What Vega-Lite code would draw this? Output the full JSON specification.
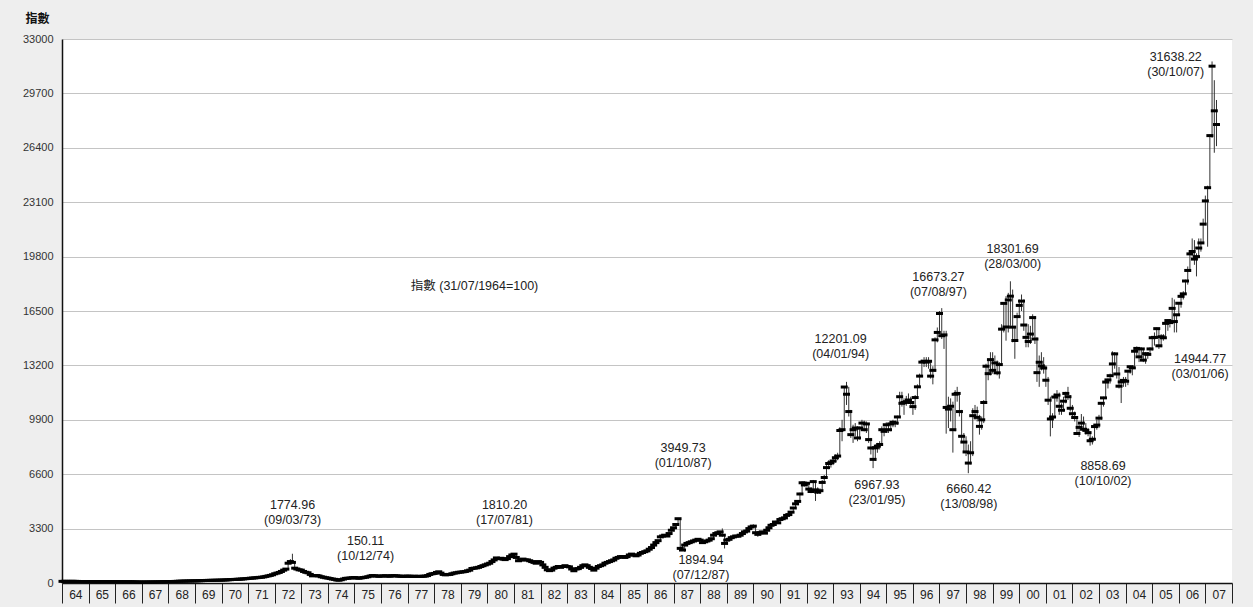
{
"$schema":"https://vega.github.io/schema/vega-lite/v6.json",
"width":1170,"height":544,
"autosize":{"type":"none"},
"padding":{"left":62,"top":39,"right":21,"bottom":24},
"background":"#eeeeee",
"config":{"view":{"fill":"white","stroke":null},"font":"Liberation Sans"},
"datasets":{
"hsi":[
{"d":"1964-07","c":100,"h":101,"l":99},{"d":"1964-08","c":101,"h":102,"l":99},{"d":"1964-09","c":100,"h":102,"l":99},{"d":"1964-10","c":99,"h":101,"l":98},{"d":"1964-11","c":100,"h":101,"l":98},{"d":"1964-12","c":101,"h":102,"l":99},
{"d":"1965-01","c":98,"h":102,"l":97},{"d":"1965-02","c":95,"h":99,"l":94},{"d":"1965-03","c":92,"h":96,"l":91},{"d":"1965-04","c":88,"h":93,"l":87},{"d":"1965-05","c":86,"h":89,"l":85},{"d":"1965-06","c":85,"h":87,"l":84},{"d":"1965-07","c":84,"h":86,"l":83},{"d":"1965-08","c":83,"h":85,"l":82},{"d":"1965-09","c":83,"h":84,"l":82},{"d":"1965-10","c":82,"h":84,"l":81},{"d":"1965-11","c":82,"h":83,"l":81},{"d":"1965-12","c":82,"h":83,"l":81},
{"d":"1966-01","c":83,"h":84,"l":81},{"d":"1966-02","c":84,"h":85,"l":82},{"d":"1966-03","c":83,"h":85,"l":82},{"d":"1966-04","c":82,"h":84,"l":81},{"d":"1966-05","c":81,"h":83,"l":80},{"d":"1966-06","c":80,"h":82,"l":79},{"d":"1966-07","c":80,"h":81,"l":79},{"d":"1966-08","c":79,"h":81,"l":78},{"d":"1966-09","c":79,"h":80,"l":78},{"d":"1966-10","c":78,"h":80,"l":77},{"d":"1966-11","c":77,"h":79,"l":76},{"d":"1966-12","c":77,"h":78,"l":76},
{"d":"1967-01","c":76,"h":78,"l":75},{"d":"1967-02","c":75,"h":77,"l":74},{"d":"1967-03","c":74,"h":76,"l":73},{"d":"1967-04","c":70,"h":75,"l":69},{"d":"1967-05","c":62,"h":71,"l":61},{"d":"1967-06","c":60,"h":63,"l":59},{"d":"1967-07","c":60,"h":62,"l":59},{"d":"1967-08","c":59,"h":61,"l":58},{"d":"1967-09","c":62,"h":63,"l":59},{"d":"1967-10","c":63,"h":64,"l":61},{"d":"1967-11","c":65,"h":66,"l":62},{"d":"1967-12","c":66,"h":67,"l":64},
{"d":"1968-01","c":68,"h":69,"l":65},{"d":"1968-02","c":70,"h":71,"l":67},{"d":"1968-03","c":72,"h":73,"l":69},{"d":"1968-04","c":75,"h":76,"l":71},{"d":"1968-05","c":80,"h":81,"l":74},{"d":"1968-06","c":84,"h":86,"l":79},{"d":"1968-07","c":88,"h":90,"l":83},{"d":"1968-08","c":90,"h":92,"l":87},{"d":"1968-09","c":92,"h":94,"l":89},{"d":"1968-10","c":96,"h":98,"l":91},{"d":"1968-11","c":102,"h":104,"l":95},{"d":"1968-12","c":107,"h":109,"l":101},
{"d":"1969-01","c":112,"h":114,"l":106},{"d":"1969-02","c":115,"h":118,"l":110},{"d":"1969-03","c":118,"h":121,"l":113},{"d":"1969-04","c":122,"h":125,"l":116},{"d":"1969-05","c":125,"h":128,"l":120},{"d":"1969-06","c":128,"h":131,"l":123},{"d":"1969-07","c":130,"h":133,"l":126},{"d":"1969-08","c":133,"h":136,"l":128},{"d":"1969-09","c":138,"h":141,"l":131},{"d":"1969-10","c":142,"h":146,"l":136},{"d":"1969-11","c":148,"h":151,"l":140},{"d":"1969-12","c":155,"h":158,"l":146},
{"d":"1970-01","c":158,"h":162,"l":152},{"d":"1970-02","c":160,"h":164,"l":155},{"d":"1970-03","c":163,"h":167,"l":157},{"d":"1970-04","c":167,"h":171,"l":160},{"d":"1970-05","c":170,"h":174,"l":164},{"d":"1970-06","c":172,"h":176,"l":166},{"d":"1970-07","c":176,"h":180,"l":169},{"d":"1970-08","c":182,"h":186,"l":174},{"d":"1970-09","c":188,"h":192,"l":180},{"d":"1970-10","c":195,"h":199,"l":186},{"d":"1970-11","c":203,"h":207,"l":193},{"d":"1970-12","c":211,"h":216,"l":201},
{"d":"1971-01","c":218,"h":223,"l":208},{"d":"1971-02","c":225,"h":230,"l":215},{"d":"1971-03","c":230,"h":236,"l":221},{"d":"1971-04","c":240,"h":246,"l":227},{"d":"1971-05","c":250,"h":256,"l":237},{"d":"1971-06","c":262,"h":268,"l":247},{"d":"1971-07","c":275,"h":281,"l":259},{"d":"1971-08","c":290,"h":297,"l":272},{"d":"1971-09","c":300,"h":307,"l":286},{"d":"1971-10","c":310,"h":318,"l":296},{"d":"1971-11","c":325,"h":333,"l":306},{"d":"1971-12","c":341,"h":350,"l":320},
{"d":"1972-01","c":350,"h":360,"l":335},{"d":"1972-02","c":370,"h":380,"l":345},{"d":"1972-03","c":400,"h":412,"l":365},{"d":"1972-04","c":430,"h":443,"l":395},{"d":"1972-05","c":460,"h":474,"l":425},{"d":"1972-06","c":500,"h":515,"l":455},{"d":"1972-07","c":560,"h":577,"l":495},{"d":"1972-08","c":600,"h":620,"l":550},{"d":"1972-09","c":640,"h":660,"l":590},{"d":"1972-10","c":700,"h":722,"l":630},{"d":"1972-11","c":780,"h":805,"l":690},{"d":"1972-12","c":843,"h":870,"l":770},
{"d":"1973-01","c":1200,"h":1250,"l":840},{"d":"1973-02","c":1300,"h":1450,"l":1150},{"d":"1973-03","c":1250,"h":1775,"l":1200},{"d":"1973-04","c":900,"h":1250,"l":850},{"d":"1973-05","c":850,"h":950,"l":800},{"d":"1973-06","c":800,"h":880,"l":760},{"d":"1973-07","c":780,"h":830,"l":740},{"d":"1973-08","c":700,"h":800,"l":680},{"d":"1973-09","c":650,"h":720,"l":620},{"d":"1973-10","c":620,"h":680,"l":590},{"d":"1973-11","c":520,"h":630,"l":500},{"d":"1973-12","c":434,"h":530,"l":400},
{"d":"1974-01","c":460,"h":480,"l":420},{"d":"1974-02","c":450,"h":475,"l":430},{"d":"1974-03","c":430,"h":460,"l":410},{"d":"1974-04","c":380,"h":435,"l":365},{"d":"1974-05","c":350,"h":390,"l":335},{"d":"1974-06","c":320,"h":355,"l":305},{"d":"1974-07","c":300,"h":325,"l":285},{"d":"1974-08","c":270,"h":305,"l":255},{"d":"1974-09","c":240,"h":275,"l":225},{"d":"1974-10","c":220,"h":245,"l":205},{"d":"1974-11","c":180,"h":225,"l":170},{"d":"1974-12","c":171,"h":190,"l":150},
{"d":"1975-01","c":200,"h":205,"l":168},{"d":"1975-02","c":240,"h":245,"l":195},{"d":"1975-03","c":280,"h":290,"l":235},{"d":"1975-04","c":290,"h":300,"l":270},{"d":"1975-05","c":300,"h":310,"l":285},{"d":"1975-06","c":320,"h":330,"l":295},{"d":"1975-07","c":330,"h":345,"l":315},{"d":"1975-08","c":300,"h":335,"l":290},{"d":"1975-09","c":290,"h":305,"l":280},{"d":"1975-10","c":310,"h":318,"l":285},{"d":"1975-11","c":330,"h":338,"l":305},{"d":"1975-12","c":350,"h":360,"l":325},
{"d":"1976-01","c":380,"h":390,"l":345},{"d":"1976-02","c":420,"h":430,"l":375},{"d":"1976-03","c":450,"h":465,"l":415},{"d":"1976-04","c":440,"h":460,"l":430},{"d":"1976-05","c":420,"h":445,"l":410},{"d":"1976-06","c":410,"h":425,"l":400},{"d":"1976-07","c":420,"h":428,"l":405},{"d":"1976-08","c":430,"h":440,"l":415},{"d":"1976-09","c":440,"h":450,"l":425},{"d":"1976-10","c":420,"h":445,"l":410},{"d":"1976-11","c":410,"h":425,"l":400},{"d":"1976-12","c":447,"h":455,"l":405},
{"d":"1977-01","c":440,"h":455,"l":430},{"d":"1977-02","c":430,"h":445,"l":420},{"d":"1977-03","c":420,"h":435,"l":410},{"d":"1977-04","c":410,"h":425,"l":400},{"d":"1977-05","c":400,"h":415,"l":390},{"d":"1977-06","c":410,"h":418,"l":395},{"d":"1977-07","c":420,"h":428,"l":405},{"d":"1977-08","c":410,"h":425,"l":400},{"d":"1977-09","c":400,"h":415,"l":390},{"d":"1977-10","c":410,"h":418,"l":395},{"d":"1977-11","c":400,"h":415,"l":390},{"d":"1977-12","c":404,"h":412,"l":392},
{"d":"1978-01","c":400,"h":410,"l":390},{"d":"1978-02","c":410,"h":418,"l":395},{"d":"1978-03","c":420,"h":430,"l":405},{"d":"1978-04","c":450,"h":460,"l":415},{"d":"1978-05","c":520,"h":530,"l":445},{"d":"1978-06","c":560,"h":575,"l":510},{"d":"1978-07","c":580,"h":595,"l":550},{"d":"1978-08","c":640,"h":655,"l":570},{"d":"1978-09","c":680,"h":707,"l":630},{"d":"1978-10","c":600,"h":690,"l":580},{"d":"1978-11","c":520,"h":610,"l":500},{"d":"1978-12","c":496,"h":530,"l":480},
{"d":"1979-01","c":510,"h":520,"l":485},{"d":"1979-02","c":520,"h":530,"l":500},{"d":"1979-03","c":560,"h":570,"l":510},{"d":"1979-04","c":600,"h":615,"l":550},{"d":"1979-05","c":620,"h":635,"l":590},{"d":"1979-06","c":650,"h":665,"l":610},{"d":"1979-07","c":660,"h":675,"l":640},{"d":"1979-08","c":680,"h":695,"l":650},{"d":"1979-09","c":700,"h":715,"l":665},{"d":"1979-10","c":740,"h":755,"l":690},{"d":"1979-11","c":780,"h":800,"l":725},{"d":"1979-12","c":879,"h":890,"l":770},
{"d":"1980-01","c":900,"h":930,"l":860},{"d":"1980-02","c":920,"h":950,"l":880},{"d":"1980-03","c":950,"h":980,"l":900},{"d":"1980-04","c":1000,"h":1030,"l":940},{"d":"1980-05","c":1050,"h":1080,"l":990},{"d":"1980-06","c":1100,"h":1130,"l":1040},{"d":"1980-07","c":1150,"h":1180,"l":1090},{"d":"1980-08","c":1200,"h":1230,"l":1140},{"d":"1980-09","c":1300,"h":1330,"l":1190},{"d":"1980-10","c":1400,"h":1430,"l":1290},{"d":"1980-11","c":1520,"h":1560,"l":1390},{"d":"1980-12","c":1473,"h":1550,"l":1430},
{"d":"1981-01","c":1500,"h":1540,"l":1450},{"d":"1981-02","c":1450,"h":1520,"l":1420},{"d":"1981-03","c":1420,"h":1470,"l":1390},{"d":"1981-04","c":1480,"h":1510,"l":1410},{"d":"1981-05","c":1600,"h":1630,"l":1470},{"d":"1981-06","c":1700,"h":1740,"l":1590},{"d":"1981-07","c":1750,"h":1810,"l":1690},{"d":"1981-08","c":1550,"h":1760,"l":1520},{"d":"1981-09","c":1350,"h":1560,"l":1300},{"d":"1981-10","c":1400,"h":1430,"l":1330},{"d":"1981-11","c":1450,"h":1480,"l":1390},{"d":"1981-12","c":1405,"h":1470,"l":1380},
{"d":"1982-01","c":1400,"h":1440,"l":1370},{"d":"1982-02","c":1350,"h":1420,"l":1320},{"d":"1982-03","c":1300,"h":1360,"l":1270},{"d":"1982-04","c":1250,"h":1320,"l":1220},{"d":"1982-05","c":1200,"h":1270,"l":1170},{"d":"1982-06","c":1300,"h":1330,"l":1190},{"d":"1982-07","c":1250,"h":1320,"l":1220},{"d":"1982-08","c":1100,"h":1260,"l":1070},{"d":"1982-09","c":950,"h":1110,"l":920},{"d":"1982-10","c":800,"h":960,"l":770},{"d":"1982-11","c":750,"h":820,"l":676},{"d":"1982-12","c":784,"h":800,"l":720},
{"d":"1983-01","c":900,"h":920,"l":770},{"d":"1983-02","c":950,"h":975,"l":890},{"d":"1983-03","c":1000,"h":1030,"l":940},{"d":"1983-04","c":950,"h":1010,"l":930},{"d":"1983-05","c":1000,"h":1020,"l":940},{"d":"1983-06","c":1050,"h":1080,"l":990},{"d":"1983-07","c":1000,"h":1060,"l":980},{"d":"1983-08","c":980,"h":1010,"l":960},{"d":"1983-09","c":850,"h":990,"l":820},{"d":"1983-10","c":750,"h":870,"l":690},{"d":"1983-11","c":850,"h":870,"l":740},{"d":"1983-12","c":874,"h":900,"l":830},
{"d":"1984-01","c":950,"h":970,"l":860},{"d":"1984-02","c":1050,"h":1080,"l":940},{"d":"1984-03","c":1100,"h":1130,"l":1040},{"d":"1984-04","c":1050,"h":1110,"l":1030},{"d":"1984-05","c":950,"h":1060,"l":930},{"d":"1984-06","c":880,"h":960,"l":860},{"d":"1984-07","c":780,"h":890,"l":746},{"d":"1984-08","c":900,"h":920,"l":770},{"d":"1984-09","c":1000,"h":1020,"l":890},{"d":"1984-10","c":1050,"h":1080,"l":990},{"d":"1984-11","c":1100,"h":1130,"l":1040},{"d":"1984-12","c":1200,"h":1230,"l":1090},
{"d":"1985-01","c":1250,"h":1280,"l":1190},{"d":"1985-02","c":1300,"h":1330,"l":1240},{"d":"1985-03","c":1350,"h":1380,"l":1290},{"d":"1985-04","c":1400,"h":1430,"l":1340},{"d":"1985-05","c":1500,"h":1530,"l":1390},{"d":"1985-06","c":1550,"h":1580,"l":1490},{"d":"1985-07","c":1600,"h":1630,"l":1540},{"d":"1985-08","c":1600,"h":1640,"l":1570},{"d":"1985-09","c":1550,"h":1610,"l":1520},{"d":"1985-10","c":1600,"h":1630,"l":1540},{"d":"1985-11","c":1700,"h":1730,"l":1590},{"d":"1985-12","c":1752,"h":1780,"l":1690},
{"d":"1986-01","c":1700,"h":1770,"l":1670},{"d":"1986-02","c":1650,"h":1720,"l":1620},{"d":"1986-03","c":1700,"h":1730,"l":1630},{"d":"1986-04","c":1800,"h":1830,"l":1690},{"d":"1986-05","c":1850,"h":1890,"l":1790},{"d":"1986-06","c":1900,"h":1940,"l":1840},{"d":"1986-07","c":1950,"h":1990,"l":1890},{"d":"1986-08","c":2050,"h":2090,"l":1940},{"d":"1986-09","c":2150,"h":2190,"l":2040},{"d":"1986-10","c":2300,"h":2340,"l":2140},{"d":"1986-11","c":2450,"h":2490,"l":2290},{"d":"1986-12","c":2568,"h":2610,"l":2440},
{"d":"1987-01","c":2800,"h":2850,"l":2550},{"d":"1987-02","c":2850,"h":2900,"l":2780},{"d":"1987-03","c":2900,"h":2960,"l":2830},{"d":"1987-04","c":2850,"h":2950,"l":2800},{"d":"1987-05","c":3000,"h":3050,"l":2830},{"d":"1987-06","c":3200,"h":3250,"l":2990},{"d":"1987-07","c":3350,"h":3400,"l":3180},{"d":"1987-08","c":3550,"h":3600,"l":3330},{"d":"1987-09","c":3900,"h":3950,"l":3540},{"d":"1987-10","c":2100,"h":3950,"l":1950},{"d":"1987-11","c":2000,"h":2250,"l":1950},{"d":"1987-12","c":2302,"h":2350,"l":1895},
{"d":"1988-01","c":2400,"h":2450,"l":2280},{"d":"1988-02","c":2450,"h":2500,"l":2380},{"d":"1988-03","c":2500,"h":2560,"l":2420},{"d":"1988-04","c":2550,"h":2600,"l":2470},{"d":"1988-05","c":2600,"h":2660,"l":2520},{"d":"1988-06","c":2650,"h":2720,"l":2570},{"d":"1988-07","c":2600,"h":2700,"l":2550},{"d":"1988-08","c":2450,"h":2620,"l":2400},{"d":"1988-09","c":2500,"h":2540,"l":2420},{"d":"1988-10","c":2550,"h":2600,"l":2470},{"d":"1988-11","c":2600,"h":2650,"l":2520},{"d":"1988-12","c":2687,"h":2740,"l":2580},
{"d":"1989-01","c":2900,"h":2950,"l":2660},{"d":"1989-02","c":3000,"h":3050,"l":2880},{"d":"1989-03","c":3050,"h":3110,"l":2960},{"d":"1989-04","c":3100,"h":3160,"l":3010},{"d":"1989-05","c":2900,"h":3310,"l":2800},{"d":"1989-06","c":2400,"h":2950,"l":2093},{"d":"1989-07","c":2600,"h":2650,"l":2380},{"d":"1989-08","c":2650,"h":2710,"l":2560},{"d":"1989-09","c":2750,"h":2800,"l":2630},{"d":"1989-10","c":2800,"h":2860,"l":2700},{"d":"1989-11","c":2850,"h":2900,"l":2760},{"d":"1989-12","c":2837,"h":2900,"l":2780},
{"d":"1990-01","c":2900,"h":2960,"l":2800},{"d":"1990-02","c":3000,"h":3060,"l":2880},{"d":"1990-03","c":3100,"h":3160,"l":2980},{"d":"1990-04","c":3150,"h":3220,"l":3070},{"d":"1990-05","c":3300,"h":3360,"l":3130},{"d":"1990-06","c":3400,"h":3460,"l":3280},{"d":"1990-07","c":3450,"h":3559,"l":3380},{"d":"1990-08","c":3050,"h":3470,"l":2950},{"d":"1990-09","c":2950,"h":3100,"l":2800},{"d":"1990-10","c":3050,"h":3100,"l":2900},{"d":"1990-11","c":3100,"h":3160,"l":3000},{"d":"1990-12","c":3025,"h":3120,"l":2980},
{"d":"1991-01","c":3200,"h":3250,"l":2990},{"d":"1991-02","c":3350,"h":3400,"l":3180},{"d":"1991-03","c":3500,"h":3560,"l":3330},{"d":"1991-04","c":3550,"h":3620,"l":3470},{"d":"1991-05","c":3700,"h":3770,"l":3520},{"d":"1991-06","c":3650,"h":3750,"l":3580},{"d":"1991-07","c":3850,"h":3900,"l":3630},{"d":"1991-08","c":3900,"h":3980,"l":3820},{"d":"1991-09","c":3950,"h":4020,"l":3860},{"d":"1991-10","c":4100,"h":4170,"l":3930},{"d":"1991-11","c":4150,"h":4220,"l":4070},{"d":"1991-12","c":4297,"h":4360,"l":4120},
{"d":"1992-01","c":4550,"h":4620,"l":4280},{"d":"1992-02","c":4800,"h":4880,"l":4520},{"d":"1992-03","c":4950,"h":5030,"l":4750},{"d":"1992-04","c":5400,"h":5480,"l":4900},{"d":"1992-05","c":6080,"h":6170,"l":5380},{"d":"1992-06","c":5950,"h":6150,"l":5850},{"d":"1992-07","c":6050,"h":6150,"l":5880},{"d":"1992-08","c":5700,"h":6100,"l":5600},{"d":"1992-09","c":5550,"h":5800,"l":5450},{"d":"1992-10","c":6150,"h":6250,"l":5500},{"d":"1992-11","c":5650,"h":6200,"l":4978},{"d":"1992-12","c":5512,"h":5800,"l":5400},
{"d":"1993-01","c":5600,"h":5750,"l":5400},{"d":"1993-02","c":6100,"h":6250,"l":5550},{"d":"1993-03","c":6400,"h":6550,"l":6050},{"d":"1993-04","c":7000,"h":7150,"l":6350},{"d":"1993-05","c":7250,"h":7450,"l":6900},{"d":"1993-06","c":7300,"h":7450,"l":7000},{"d":"1993-07","c":7400,"h":7550,"l":7150},{"d":"1993-08","c":7600,"h":7800,"l":7300},{"d":"1993-09","c":7700,"h":7900,"l":7450},{"d":"1993-10","c":9250,"h":9450,"l":7650},{"d":"1993-11","c":9300,"h":9900,"l":8600},{"d":"1993-12","c":11888,"h":11950,"l":9300},
{"d":"1994-01","c":11450,"h":12201,"l":10800},{"d":"1994-02","c":10400,"h":11900,"l":10100},{"d":"1994-03","c":9000,"h":10500,"l":8800},{"d":"1994-04","c":9300,"h":9600,"l":8500},{"d":"1994-05","c":9400,"h":9700,"l":8900},{"d":"1994-06","c":8800,"h":9500,"l":8600},{"d":"1994-07","c":9400,"h":9500,"l":8700},{"d":"1994-08","c":9700,"h":9900,"l":9300},{"d":"1994-09","c":9300,"h":9850,"l":9200},{"d":"1994-10","c":9650,"h":9800,"l":9100},{"d":"1994-11","c":8700,"h":9700,"l":8500},{"d":"1994-12","c":8191,"h":8800,"l":7800},
{"d":"1995-01","c":7500,"h":8300,"l":6968},{"d":"1995-02","c":8200,"h":8400,"l":7400},{"d":"1995-03","c":8300,"h":8500,"l":7900},{"d":"1995-04","c":8400,"h":8600,"l":8100},{"d":"1995-05","c":9300,"h":9500,"l":8350},{"d":"1995-06","c":9200,"h":9500,"l":8900},{"d":"1995-07","c":9600,"h":9750,"l":9100},{"d":"1995-08","c":9300,"h":9650,"l":9100},{"d":"1995-09","c":9650,"h":9800,"l":9200},{"d":"1995-10","c":9750,"h":9900,"l":9450},{"d":"1995-11","c":9700,"h":9850,"l":9450},{"d":"1995-12","c":10073,"h":10150,"l":9600},
{"d":"1996-01","c":11300,"h":11600,"l":10050},{"d":"1996-02","c":10900,"h":11600,"l":10700},{"d":"1996-03","c":10950,"h":11200,"l":10200},{"d":"1996-04","c":11000,"h":11350,"l":10750},{"d":"1996-05","c":11100,"h":11500,"l":10900},{"d":"1996-06","c":10950,"h":11300,"l":10800},{"d":"1996-07","c":10700,"h":11000,"l":10200},{"d":"1996-08","c":11250,"h":11400,"l":10500},{"d":"1996-09","c":11900,"h":12050,"l":11200},{"d":"1996-10","c":12550,"h":12700,"l":11850},{"d":"1996-11","c":13400,"h":13550,"l":12500},{"d":"1996-12","c":13451,"h":13700,"l":13100},
{"d":"1997-01","c":13400,"h":13700,"l":13100},{"d":"1997-02","c":13450,"h":13700,"l":13000},{"d":"1997-03","c":12550,"h":13500,"l":12400},{"d":"1997-04","c":12900,"h":13150,"l":12050},{"d":"1997-05","c":14750,"h":14900,"l":12800},{"d":"1997-06","c":15200,"h":15500,"l":14600},{"d":"1997-07","c":16350,"h":16500,"l":15100},{"d":"1997-08","c":15000,"h":16673,"l":14800},{"d":"1997-09","c":15050,"h":15300,"l":14200},{"d":"1997-10","c":10650,"h":15300,"l":9059},{"d":"1997-11","c":10550,"h":11300,"l":9400},{"d":"1997-12","c":10722,"h":11200,"l":9800},
{"d":"1998-01","c":9300,"h":11000,"l":7909},{"d":"1998-02","c":11450,"h":11700,"l":9200},{"d":"1998-03","c":11500,"h":11900,"l":11000},{"d":"1998-04","c":10400,"h":11500,"l":10100},{"d":"1998-05","c":8900,"h":10500,"l":8600},{"d":"1998-06","c":8550,"h":9100,"l":7900},{"d":"1998-07","c":7950,"h":8900,"l":7700},{"d":"1998-08","c":7275,"h":8400,"l":6660},{"d":"1998-09","c":7900,"h":8600,"l":7200},{"d":"1998-10","c":10150,"h":10600,"l":7700},{"d":"1998-11","c":10400,"h":10800,"l":9900},{"d":"1998-12","c":10048,"h":10700,"l":9800},
{"d":"1999-01","c":9500,"h":10200,"l":9000},{"d":"1999-02","c":9900,"h":10100,"l":9300},{"d":"1999-03","c":10950,"h":11100,"l":9700},{"d":"1999-04","c":13150,"h":13300,"l":10900},{"d":"1999-05","c":12700,"h":13600,"l":12300},{"d":"1999-06","c":13550,"h":14000,"l":12600},{"d":"1999-07","c":12900,"h":14000,"l":12700},{"d":"1999-08","c":13350,"h":13800,"l":12700},{"d":"1999-09","c":12750,"h":13500,"l":12600},{"d":"1999-10","c":13250,"h":13400,"l":12400},{"d":"1999-11","c":15400,"h":15700,"l":13200},{"d":"1999-12","c":16962,"h":17000,"l":15200},
{"d":"2000-01","c":15530,"h":17400,"l":14700},{"d":"2000-02","c":17170,"h":17600,"l":15200},{"d":"2000-03","c":17400,"h":18302,"l":15600},{"d":"2000-04","c":15520,"h":17800,"l":14600},{"d":"2000-05","c":14710,"h":15600,"l":13600},{"d":"2000-06","c":16160,"h":16400,"l":14700},{"d":"2000-07","c":16840,"h":17200,"l":16100},{"d":"2000-08","c":17100,"h":17500,"l":16500},{"d":"2000-09","c":15650,"h":17200,"l":15300},{"d":"2000-10","c":14900,"h":15700,"l":14300},{"d":"2000-11","c":14650,"h":15700,"l":14300},{"d":"2000-12","c":15100,"h":15600,"l":14500},
{"d":"2001-01","c":16100,"h":16300,"l":14900},{"d":"2001-02","c":14800,"h":16200,"l":14500},{"d":"2001-03","c":12760,"h":14900,"l":12200},{"d":"2001-04","c":13390,"h":13800,"l":11900},{"d":"2001-05","c":13170,"h":14000,"l":12900},{"d":"2001-06","c":13040,"h":13700,"l":12700},{"d":"2001-07","c":12300,"h":13200,"l":11900},{"d":"2001-08","c":11090,"h":12500,"l":10800},{"d":"2001-09","c":9950,"h":11300,"l":8894},{"d":"2001-10","c":10070,"h":10300,"l":9400},{"d":"2001-11","c":11280,"h":11500,"l":10000},{"d":"2001-12","c":11397,"h":11700,"l":11000},
{"d":"2002-01","c":10720,"h":11550,"l":10200},{"d":"2002-02","c":10480,"h":10900,"l":10200},{"d":"2002-03","c":11030,"h":11300,"l":10400},{"d":"2002-04","c":11500,"h":11600,"l":10900},{"d":"2002-05","c":11300,"h":11900,"l":11100},{"d":"2002-06","c":10600,"h":11400,"l":10400},{"d":"2002-07","c":10270,"h":10800,"l":10000},{"d":"2002-08","c":10040,"h":10400,"l":9800},{"d":"2002-09","c":9070,"h":10100,"l":9000},{"d":"2002-10","c":9440,"h":9600,"l":8859},{"d":"2002-11","c":9700,"h":10250,"l":9300},{"d":"2002-12","c":9321,"h":10100,"l":9200},
{"d":"2003-01","c":9260,"h":9700,"l":9000},{"d":"2003-02","c":9120,"h":9400,"l":8900},{"d":"2003-03","c":8630,"h":9200,"l":8331},{"d":"2003-04","c":8720,"h":8900,"l":8400},{"d":"2003-05","c":9490,"h":9600,"l":8700},{"d":"2003-06","c":9580,"h":9900,"l":9300},{"d":"2003-07","c":10000,"h":10200,"l":9400},{"d":"2003-08","c":10900,"h":10950,"l":9900},{"d":"2003-09","c":11230,"h":11300,"l":10700},{"d":"2003-10","c":12190,"h":12300,"l":11200},{"d":"2003-11","c":12320,"h":12400,"l":11800},{"d":"2003-12","c":12576,"h":12700,"l":12100},
{"d":"2004-01","c":13290,"h":14058,"l":12500},{"d":"2004-02","c":13900,"h":14000,"l":13000},{"d":"2004-03","c":12680,"h":13900,"l":12400},{"d":"2004-04","c":11940,"h":13100,"l":11800},{"d":"2004-05","c":12200,"h":12300,"l":10918},{"d":"2004-06","c":12290,"h":12500,"l":11900},{"d":"2004-07","c":12240,"h":12500,"l":11900},{"d":"2004-08","c":12850,"h":12900,"l":12000},{"d":"2004-09","c":13120,"h":13200,"l":12700},{"d":"2004-10","c":13050,"h":13200,"l":12600},{"d":"2004-11","c":14060,"h":14200,"l":13000},{"d":"2004-12","c":14230,"h":14350,"l":13800},
{"d":"2005-01","c":13720,"h":14250,"l":13400},{"d":"2005-02","c":14200,"h":14300,"l":13600},{"d":"2005-03","c":13520,"h":14200,"l":13400},{"d":"2005-04","c":13910,"h":14000,"l":13300},{"d":"2005-05","c":13870,"h":14000,"l":13600},{"d":"2005-06","c":14200,"h":14300,"l":13800},{"d":"2005-07","c":14880,"h":14900,"l":14100},{"d":"2005-08","c":14900,"h":15200,"l":14400},{"d":"2005-09","c":15430,"h":15500,"l":14800},{"d":"2005-10","c":14390,"h":15450,"l":14200},{"d":"2005-11","c":14940,"h":15100,"l":14300},{"d":"2005-12","c":14876,"h":15100,"l":14700},
{"d":"2006-01","c":15750,"h":15800,"l":14800},{"d":"2006-02","c":15920,"h":16000,"l":15300},{"d":"2006-03","c":15800,"h":16000,"l":15500},{"d":"2006-04","c":16660,"h":17300,"l":15700},{"d":"2006-05","c":15860,"h":17200,"l":15200},{"d":"2006-06","c":16270,"h":16300,"l":15200},{"d":"2006-07","c":16970,"h":17000,"l":16200},{"d":"2006-08","c":17390,"h":17500,"l":16700},{"d":"2006-09","c":17540,"h":17700,"l":17200},{"d":"2006-10","c":18320,"h":18400,"l":17500},{"d":"2006-11","c":18960,"h":19200,"l":18100},{"d":"2006-12","c":19965,"h":20050,"l":18900},
{"d":"2007-01","c":20110,"h":20900,"l":19800},{"d":"2007-02","c":19650,"h":20800,"l":19300},{"d":"2007-03","c":19800,"h":20000,"l":18600},{"d":"2007-04","c":20320,"h":20900,"l":19700},{"d":"2007-05","c":20630,"h":20900,"l":20100},{"d":"2007-06","c":21770,"h":22100,"l":20600},{"d":"2007-07","c":23180,"h":23500,"l":21700},{"d":"2007-08","c":23980,"h":24100,"l":20400},{"d":"2007-09","c":27140,"h":27200,"l":24000},{"d":"2007-10","c":31352,"h":31638,"l":27000},{"d":"2007-11","c":28643,"h":30500,"l":26100},{"d":"2007-12","c":27812,"h":29300,"l":26500}
],
"notes":[
{"d":"1973-03-03","v":4519,"t":"1774.96\n(09/03/73)"},
{"d":"1975-12-01","v":2335,"t":"150.11\n(10/12/74)"},
{"d":"1981-02-20","v":4519,"t":"1810.20\n(17/07/81)"},
{"d":"1987-11-10","v":7946,"t":"3949.73\n(01/10/87)"},
{"d":"1988-07-12","v":1153,"t":"1894.94\n(07/12/87)"},
{"d":"1993-10-12","v":14571,"t":"12201.09\n(04/01/94)"},
{"d":"1995-02-22","v":5690,"t":"6967.93\n(23/01/95)"},
{"d":"1997-06-16","v":18307,"t":"16673.27\n(07/08/97)"},
{"d":"1998-08-08","v":5472,"t":"6660.42\n(13/08/98)"},
{"d":"2000-04-01","v":20048,"t":"18301.69\n(28/03/00)"},
{"d":"2003-08-25","v":6885,"t":"8858.69\n(10/10/02)"},
{"d":"2006-05-20","v":31683,"t":"31638.22\n(30/10/07)"},
{"d":"2007-04-19","v":13357,"t":"14944.77\n(03/01/06)"},
{"d":"1980-01-05","v":17804,"t":"指數 (31/07/1964=100)"}
]
},
"layer":[
{"data":{"name":"hsi"},
 "mark":{"type":"rule","color":"#333333","strokeWidth":1},
 "encoding":{
  "x":{"field":"d","type":"temporal",
   "scale":{"domain":[{"year":1964,"month":7,"date":1},{"year":2008,"month":7,"date":1}]},
   "axis":{"title":null,"grid":false,"tickCount":60,
    "values":[{"year":1964,"month":7,"date":1},{"year":1965,"month":7,"date":1},{"year":1966,"month":7,"date":1},{"year":1967,"month":7,"date":1},{"year":1968,"month":7,"date":1},{"year":1969,"month":7,"date":1},{"year":1970,"month":7,"date":1},{"year":1971,"month":7,"date":1},{"year":1972,"month":7,"date":1},{"year":1973,"month":7,"date":1},{"year":1974,"month":7,"date":1},{"year":1975,"month":7,"date":1},{"year":1976,"month":7,"date":1},{"year":1977,"month":7,"date":1},{"year":1978,"month":7,"date":1},{"year":1979,"month":7,"date":1},{"year":1980,"month":7,"date":1},{"year":1981,"month":7,"date":1},{"year":1982,"month":7,"date":1},{"year":1983,"month":7,"date":1},{"year":1984,"month":7,"date":1},{"year":1985,"month":7,"date":1},{"year":1986,"month":7,"date":1},{"year":1987,"month":7,"date":1},{"year":1988,"month":7,"date":1},{"year":1989,"month":7,"date":1},{"year":1990,"month":7,"date":1},{"year":1991,"month":7,"date":1},{"year":1992,"month":7,"date":1},{"year":1993,"month":7,"date":1},{"year":1994,"month":7,"date":1},{"year":1995,"month":7,"date":1},{"year":1996,"month":7,"date":1},{"year":1997,"month":7,"date":1},{"year":1998,"month":7,"date":1},{"year":1999,"month":7,"date":1},{"year":2000,"month":7,"date":1},{"year":2001,"month":7,"date":1},{"year":2002,"month":7,"date":1},{"year":2003,"month":7,"date":1},{"year":2004,"month":7,"date":1},{"year":2005,"month":7,"date":1},{"year":2006,"month":7,"date":1},{"year":2007,"month":7,"date":1},{"year":2008,"month":7,"date":1}],
    "labelExpr":"year(datum.value) > 2007 ? '' : timeFormat(datum.value, '%y')",
    "tickSize":20,"tickColor":"#222222","tickWidth":1,
    "domainColor":"#111111","domainWidth":1.5,
    "labelOffset":13.3,"labelPadding":-9,"labelBaseline":"middle","labelAlign":"center",
    "labelFont":"Liberation Sans","labelFontSize":12,"labelColor":"#222222",
    "labelFlush":false,"labelOverlap":false,"labelBound":false}},
  "y":{"field":"l","type":"quantitative",
   "scale":{"domain":[0,33000],"nice":false,"zero":true},
   "axis":{"title":"指數","titleAngle":0,"titleAlign":"center","titleBaseline":"middle","titleX":-25,"titleY":-21,
    "titleFont":"Noto Sans CJK TC","titleFontSize":12,"titleFontWeight":"bold","titleColor":"#111111",
    "values":[0,3300,6600,9900,13200,16500,19800,23100,26400,29700,33000],"format":"d","tickCount":20,
    "ticks":false,"labelPadding":9,"labelFont":"Liberation Sans","labelFontSize":11,"labelColor":"#333333",
    "domainColor":"#111111","domainWidth":1.5,"grid":true,"gridColor":"#c4c4c4","gridWidth":1}},
  "y2":{"field":"h"}}},
{"data":{"name":"hsi"},
 "mark":{"type":"tick","orient":"horizontal","size":7,"thickness":3,"color":"#000000","opacity":1},
 "encoding":{
  "x":{"field":"d","type":"temporal"},
  "y":{"field":"c","type":"quantitative"}}},
{"data":{"name":"notes"},
 "mark":{"type":"text","align":"center","baseline":"alphabetic","lineBreak":"\n","font":"Liberation Sans, Noto Sans CJK TC","fontSize":12.5,"lineHeight":15,"color":"#222222"},
 "encoding":{
  "x":{"field":"d","type":"temporal"},
  "y":{"field":"v","type":"quantitative"},
  "text":{"field":"t","type":"nominal"}}}
]
}
